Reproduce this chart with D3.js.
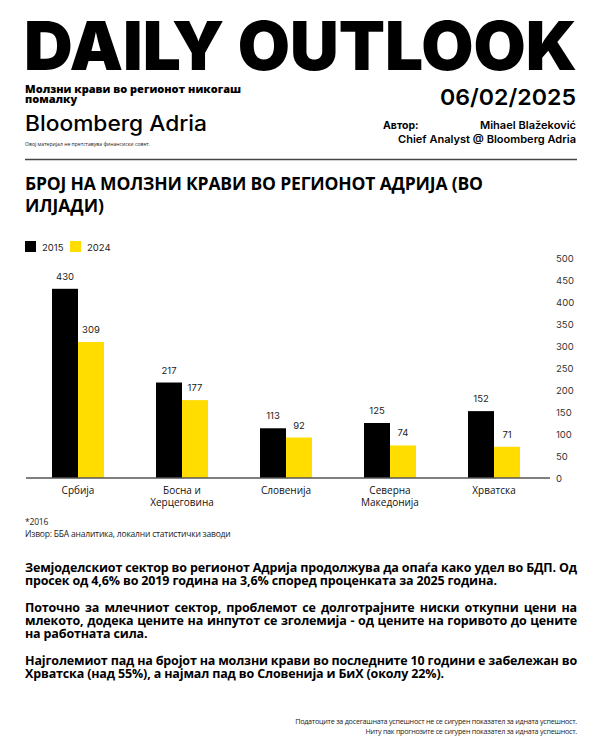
<!DOCTYPE html>
<html>
<head>
<meta charset="utf-8">
<script src="https://cdn.jsdelivr.net/npm/d3@7"></script>
<style>
  html, body { margin: 0; padding: 0; background: #fff; }
  svg { display: block; }
</style>
</head>
<body>
<script>
// ---------------- DATA ----------------
const categories = ["Србија", "Босна и Херцеговина", "Словенија", "Северна Македонија", "Хрватска"];
const categoryLines = [["Србија"], ["Босна и", "Херцеговина"], ["Словенија"], ["Северна", "Македонија"], ["Хрватска"]];
const seriesNames = ["2015", "2024"];
const values2015 = [430, 217, 113, 125, 152];
const values2024 = [309, 177, 92, 74, 71];
const yTicks = [0, 50, 100, 150, 200, 250, 300, 350, 400, 450, 500];

const headerTitle = "DAILY OUTLOOK";
const subtitleLines = ["Молзни крави во регионот никогаш", "помалку"];
const dateText = "06/02/2025";
const chartTitleLines = ["БРОЈ НА МОЛЗНИ КРАВИ ВО РЕГИОНОТ АДРИЈА (ВО", "ИЛЈАДИ)"];
const footnotes = ["*2016", "Извор: ББА аналитика, локални статистички заводи"];
const paragraphs = [
  ["Земјоделскиот сектор во регионот Адрија продолжува да опаѓа како удел во БДП. Од",
   "просек од 4,6% во 2019 година на 3,6% според проценката за 2025 година."],
  ["Поточно за млечниот сектор, проблемот се долготрајните ниски откупни цени на",
   "млекото, додека цените на инпутот се зголемија - од цените на горивото до цените",
   "на работната сила."],
  ["Најголемиот пад на бројот на молзни крави во последните 10 години е забележан во",
   "Хрватска (над 55%), а најмал пад во Словенија и БиХ (околу 22%)."]
];
const footerLines = ["Податоците за досегашната успешност не се сигурен показател за идната успешност.",
                     "Ниту пак прогнозите се сигурен показател за идната успешност."];

// ---------------- SETUP ----------------
const W = 600, H = 750;
const colors = ["#000000", "#FFDD00"];
const svg = d3.select("body").append("svg").attr("width", W).attr("height", H);
svg.append("rect").attr("width", W).attr("height", H).attr("fill", "#fff");

const grot = "Inter, 'Liberation Sans', sans-serif";
const human = "'Open Sans', 'Noto Sans', sans-serif";

// ---------------- HEADER ----------------
svg.append("text").attr("x", 24).attr("y", 70)
  .attr("font-family", grot).attr("font-weight", 900).attr("font-size", 67)
  .attr("textLength", 553).attr("lengthAdjust", "spacingAndGlyphs")
  .attr("fill", "#000").text(headerTitle);

subtitleLines.forEach((t, i) => {
  svg.append("text").attr("x", 25).attr("y", 92.5 + i * 10.5)
    .attr("font-family", human).attr("font-weight", 800).attr("font-size", 11)
    .attr("fill", "#000").text(t);
});

svg.append("text").attr("x", 25).attr("y", 131)
  .attr("font-family", grot).attr("font-weight", 500).attr("font-size", 21)
  .attr("textLength", 182).attr("lengthAdjust", "spacingAndGlyphs")
  .attr("fill", "#000").text("Bloomberg Adria");

svg.append("text").attr("x", 25).attr("y", 146)
  .attr("font-family", human).attr("font-size", 5)
  .attr("textLength", 125).attr("lengthAdjust", "spacingAndGlyphs")
  .attr("fill", "#222").text("Овој материјал не претставува финансиски совет.");

svg.append("text").attr("x", 576).attr("y", 105).attr("text-anchor", "end")
  .attr("font-family", grot).attr("font-weight", 600).attr("font-size", 22)
  .attr("textLength", 136).attr("lengthAdjust", "spacingAndGlyphs")
  .attr("fill", "#000").text(dateText);

svg.append("text").attr("x", 383).attr("y", 129)
  .attr("font-family", grot).attr("font-weight", 700).attr("font-size", 10.5)
  .attr("fill", "#000").text("Автор:");
svg.append("text").attr("x", 576).attr("y", 129).attr("text-anchor", "end")
  .attr("font-family", grot).attr("font-weight", 600).attr("font-size", 10.5)
  .attr("textLength", 96).attr("lengthAdjust", "spacingAndGlyphs")
  .attr("fill", "#000").text("Mihael Blažeković");
svg.append("text").attr("x", 576).attr("y", 143).attr("text-anchor", "end")
  .attr("font-family", grot).attr("font-weight", 600).attr("font-size", 10.5)
  .attr("textLength", 178).attr("lengthAdjust", "spacingAndGlyphs")
  .attr("fill", "#000").text("Chief Analyst @ Bloomberg Adria");

svg.append("line").attr("x1", 25).attr("x2", 577).attr("y1", 159.5).attr("y2", 159.5)
  .attr("stroke", "#444").attr("stroke-width", 1.5);

// ---------------- CHART TITLE ----------------
chartTitleLines.forEach((t, i) => {
  const el = svg.append("text").attr("x", 25).attr("y", 190 + i * 22)
    .attr("font-family", human).attr("font-weight", 700).attr("font-size", 17.5)
    .attr("fill", "#000").text(t);
  if (i === 0) el.attr("textLength", 458).attr("lengthAdjust", "spacing");
});

// ---------------- LEGEND ----------------
const legend = svg.append("g").attr("transform", "translate(25,241)");
const legendX = [0, 45];
seriesNames.forEach((s, i) => {
  const g = legend.append("g").attr("transform", `translate(${legendX[i]},0)`);
  g.append("rect").attr("width", 11).attr("height", 11).attr("fill", colors[i]);
  g.append("text").attr("x", 17).attr("y", 9.5)
    .attr("font-family", grot).attr("font-size", 9.5).attr("fill", "#222").text(s);
});

// ---------------- SCALES ----------------
const x = d3.scaleBand().domain(categories).range([26, 546]).paddingInner(0.5).paddingOuter(0.25);
const xs = d3.scaleBand().domain(seriesNames).range([0, x.bandwidth()]);
const y = d3.scaleLinear().domain([0, 500]).range([478, 258]);

// y axis on the right
const yAxis = svg.append("g").attr("transform", "translate(550,0)")
  .call(d3.axisRight(y).tickValues(yTicks).tickSize(0).tickPadding(6));
yAxis.select(".domain").remove();
yAxis.selectAll("text").attr("font-family", grot).attr("font-size", 9.5).attr("fill", "#333");

// bars
const groups = svg.append("g").selectAll("g").data(categories).join("g")
  .attr("transform", d => `translate(${x(d)},0)`);
const seriesData = [values2015, values2024];
groups.each(function(c, ci) {
  const g = d3.select(this);
  seriesNames.forEach((s, si) => {
    const v = seriesData[si][ci];
    g.append("rect").attr("x", xs(s)).attr("width", xs.bandwidth())
      .attr("y", y(v)).attr("height", y(0) - y(v)).attr("fill", colors[si]);
    g.append("text").attr("x", xs(s) + xs.bandwidth() / 2).attr("y", y(v) - 9)
      .attr("text-anchor", "middle").attr("font-family", grot).attr("font-size", 9.5)
      .attr("fill", "#222").text(v);
  });
});

// x axis line and labels
svg.append("line").attr("x1", 26).attr("x2", 550).attr("y1", y(0)).attr("y2", y(0))
  .attr("stroke", "#555").attr("stroke-width", 1.5);
categories.forEach((c, i) => {
  categoryLines[i].forEach((ln, j) => {
    svg.append("text").attr("x", x(c) + x.bandwidth() / 2).attr("y", 494 + j * 12)
      .attr("text-anchor", "middle").attr("font-family", human).attr("font-size", 10)
      .attr("fill", "#111").text(ln);
  });
});

// ---------------- FOOTNOTES ----------------
footnotes.forEach((t, i) => {
  svg.append("text").attr("x", 25).attr("y", 525 + i * 11.5)
    .attr("font-family", human).attr("font-size", 8.5).attr("letter-spacing", -0.2)
    .attr("fill", "#222").text(t);
});

// ---------------- BODY PARAGRAPHS ----------------
const bodyX = 25, bodyW = 552, lh = 13;
const paraStarts = [572, 612, 665];
const bodyFont = { family: human, weight: 700, size: 12.5 };
// calibrate letter spacing from the first full line
const probe = svg.append("text").attr("font-family", bodyFont.family).attr("font-weight", bodyFont.weight)
  .attr("font-size", bodyFont.size).text(paragraphs[0][0]);
const natural = probe.node().getComputedTextLength();
probe.remove();
const ls = Math.max(-1, Math.min(0.5, (bodyW - natural) / (paragraphs[0][0].length - 1)));

paragraphs.forEach((p, pi) => {
  p.forEach((ln, li) => {
    const t = svg.append("text").attr("x", bodyX).attr("y", paraStarts[pi] + li * lh)
      .attr("font-family", bodyFont.family).attr("font-weight", bodyFont.weight)
      .attr("font-size", bodyFont.size).attr("letter-spacing", ls)
      .attr("fill", "#000").text(ln);
    if (li < p.length - 1) {
      const w = t.node().getComputedTextLength();
      const spaces = (ln.match(/ /g) || []).length;
      if (spaces > 0) t.style("word-spacing", ((bodyW - w) / spaces) + "px");
    }
  });
});

// ---------------- FOOTER ----------------
footerLines.forEach((t, i) => {
  svg.append("text").attr("x", 577).attr("y", 724 + i * 10).attr("text-anchor", "end")
    .attr("font-family", human).attr("font-size", 7.2).attr("letter-spacing", -0.25)
    .attr("fill", "#222").text(t);
});
</script>
</body>
</html>
